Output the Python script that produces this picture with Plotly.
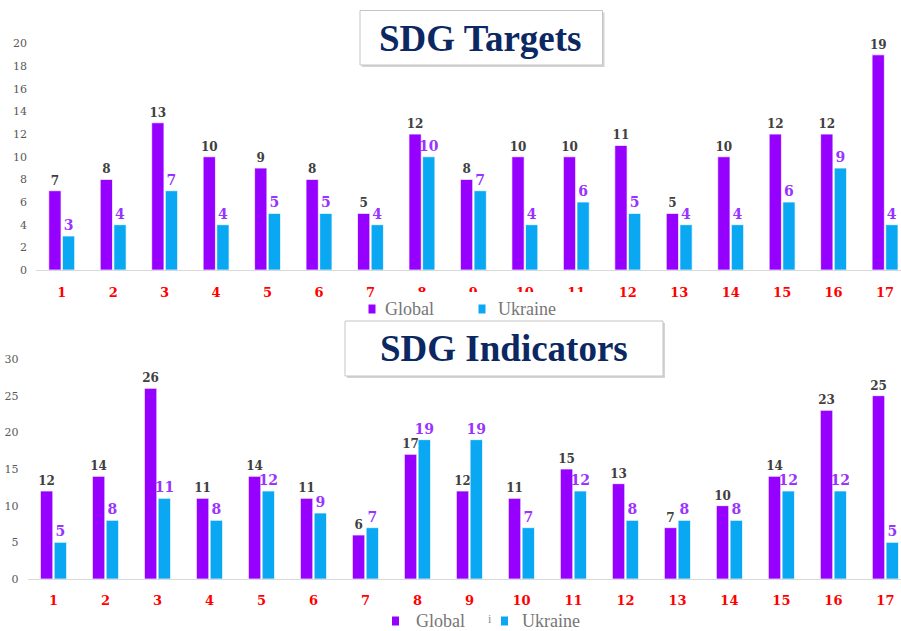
import plotly.graph_objects as go

# SDG goal numbers and counts per goal
goals = [str(i) for i in range(1, 18)]
targets_global = [7, 8, 13, 10, 9, 8, 5, 12, 8, 10, 10, 11, 5, 10, 12, 12, 19]
targets_ukraine = [3, 4, 7, 4, 5, 5, 4, 10, 7, 4, 6, 5, 4, 4, 6, 9, 4]
indicators_global = [12, 14, 26, 11, 14, 11, 6, 17, 12, 11, 15, 13, 7, 10, 14, 23, 25]
indicators_ukraine = [5, 8, 11, 8, 12, 9, 7, 19, 19, 7, 12, 8, 8, 8, 12, 12, 5]
series_names = ["Global", "Ukraine"]

W, H = 901, 631
PURPLE = "#9600ff"
BLUE = "#0aa7f2"
LABEL_PURPLE = "#9933ff"
NAVY = "#0c2862"
SERIF = "DejaVu Serif"


def px(x):
    return x / W


def py(y):
    return 1 - y / H


fig = go.Figure()


def add_pair(g_vals, u_vals, xa, ya):
    fig.add_trace(go.Bar(
        x=goals, y=g_vals, name=series_names[0], xaxis=xa, yaxis=ya,
        marker=dict(color=PURPLE, line=dict(color="rgba(255,255,255,0.7)", width=1)),
        text=[str(v) for v in g_vals], textposition="outside",
        textfont=dict(family=SERIF, size=12, color="#404040", weight="bold"),
        constraintext="none", cliponaxis=False, showlegend=False,
    ))
    fig.add_trace(go.Bar(
        x=goals, y=u_vals, name=series_names[1], xaxis=xa, yaxis=ya,
        marker=dict(color=BLUE, line=dict(color="rgba(255,255,255,0.7)", width=1)),
        text=[str(v) for v in u_vals], textposition="outside",
        textfont=dict(family=SERIF, size=14, color=LABEL_PURPLE, weight="bold"),
        constraintext="none", cliponaxis=False, showlegend=False,
    ))


add_pair(targets_global, targets_ukraine, "x", "y")
add_pair(indicators_global, indicators_ukraine, "x2", "y2")

xcommon = dict(
    type="category", categoryorder="array", categoryarray=goals,
    showgrid=False, zeroline=False, showline=True, linecolor="#d9d9d9", linewidth=1,
    tickfont=dict(family=SERIF, size=13, color="#ff0000", weight="bold"),
    ticks="", fixedrange=True, automargin=False,
)
ycommon = dict(
    showgrid=False, zeroline=False, showline=False, ticks="",
    tickfont=dict(family=SERIF, size=11, color="#595959"),
    ticklabelstandoff=8, fixedrange=True, automargin=False,
)

fig.update_layout(
    width=W, height=H,
    margin=dict(l=0, r=0, t=0, b=0),
    paper_bgcolor="white", plot_bgcolor="white",
    barmode="group", bargap=0.47, bargroupgap=0.1,
    showlegend=False,
    xaxis=dict(**xcommon, domain=[px(36), 1], range=[-0.5, 16.31],
               anchor="y", ticklabelstandoff=10),
    yaxis=dict(**ycommon, domain=[py(270), py(43.5)], range=[0, 20],
               dtick=2, anchor="x"),
    xaxis2=dict(**xcommon, domain=[px(27.5), 1], range=[-0.5, 16.3],
                anchor="y2", ticklabelstandoff=9),
    yaxis2=dict(**ycommon, domain=[py(579), py(359)], range=[0, 30],
                dtick=5, anchor="x2"),
)

shapes = []
annotations = []

# strip below the upper chart that sits under its legend
shapes.append(dict(type="rect", xref="paper", yref="paper", layer="above",
                   x0=px(398), x1=px(600), y0=py(320), y1=py(292),
                   fillcolor="white", line=dict(width=0)))


def title_box(x0, y0, x1, y1, text, cx, cy):
    shapes.append(dict(type="rect", xref="paper", yref="paper", layer="above",
                       x0=px(x0 + 2), x1=px(x1 + 2), y0=py(y1 + 2), y1=py(y0 + 2),
                       fillcolor="#d4d4d4", line=dict(width=0)))
    shapes.append(dict(type="rect", xref="paper", yref="paper", layer="above",
                       x0=px(x0), x1=px(x1), y0=py(y1), y1=py(y0),
                       fillcolor="white", line=dict(color="#c4c4c4", width=1)))
    annotations.append(dict(text=f"<b>{text}</b>", xref="paper", yref="paper",
                            x=px(cx), y=py(cy), xanchor="center", yanchor="middle",
                            showarrow=False,
                            font=dict(family="Liberation Serif", size=37, color=NAVY)))


title_box(360, 10.5, 602.5, 65, "SDG Targets", 481, 38.5)
title_box(345, 321, 663, 376, "SDG Indicators", 504, 348)


def legend_entry(sx, sy, tx, name, color):
    shapes.append(dict(type="rect", xref="paper", yref="paper", layer="above",
                       x0=px(sx), x1=px(sx + 7), y0=py(sy + 4.5), y1=py(sy - 4.5),
                       fillcolor=color, line=dict(width=0)))
    annotations.append(dict(text=name, xref="paper", yref="paper",
                            x=px(tx - 2), y=py(sy), xanchor="left", yanchor="middle",
                            showarrow=False,
                            font=dict(family="Liberation Serif", size=18, color="#767676")))


legend_entry(368.5, 309, 385, series_names[0], PURPLE)
legend_entry(478.5, 309, 498, series_names[1], BLUE)
legend_entry(392, 621, 416, series_names[0], PURPLE)
legend_entry(501, 621, 522, series_names[1], BLUE)
annotations.append(dict(text="i", xref="paper", yref="paper", x=px(490), y=py(619),
                        xanchor="center", yanchor="middle", showarrow=False,
                        font=dict(family="Liberation Serif", size=12, color="#8c8c8c")))

fig.update_layout(shapes=shapes, annotations=annotations)

fig.write_html("out.html")
